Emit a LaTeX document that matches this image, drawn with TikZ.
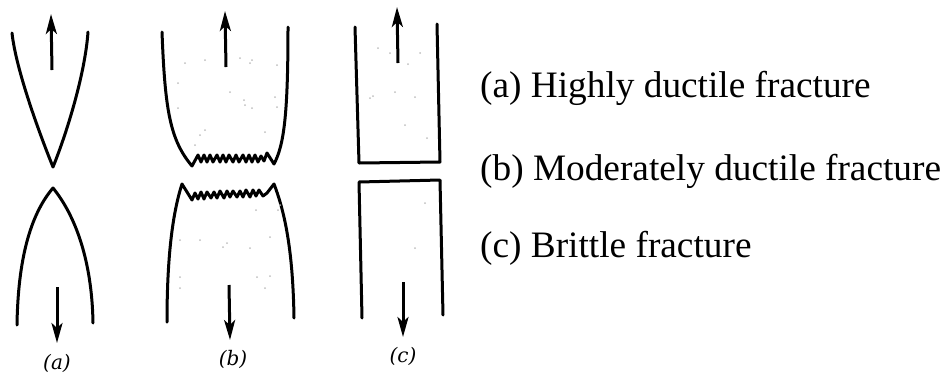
\documentclass[tikz,border=0pt]{standalone}
\usepackage{fontspec}
\setmainfont{Liberation Serif}
\newfontfamily\labfont{DejaVu Serif}
\usetikzlibrary{arrows.meta}
\begin{document}
\begin{tikzpicture}[x=1pt,y=-1pt,
  outline/.style={line width=3pt,line join=round,line cap=round},
  force/.style={line width=3pt,-{Stealth[length=20pt,width=11pt,inset=5pt]}},
  speck/.style={fill=gray!50,draw=none},
  sublabel/.style={inner sep=0pt,anchor=base,font=\labfont\itshape\fontsize{20}{24}\selectfont},
  legend/.style={inner sep=0pt,anchor=base west,font=\fontsize{37.3}{42}\selectfont}]
\useasboundingbox (0,0) rectangle (948,373);

% ---------- (a) highly ductile ----------
\draw[outline] (12,33) .. controls (16,70) and (40,135) .. (53,167)
               .. controls (66,135) and (85,75) .. (88,32);
\draw[outline] (17,325) .. controls (18,260) and (30,215) .. (53,188)
               .. controls (75,215) and (92,260) .. (93,323);
\coordinate (a1) at (52,70); \coordinate (a2) at (51,14);
\coordinate (a3) at (57,287); \coordinate (a4) at (57,343);
\draw[force] (a1) -- (a2);
\draw[force] (a3) -- (a4);
\node[sublabel] (la) at (57,369) {(a)};

% ---------- (b) moderately ductile ----------
\draw[outline] (162,32) .. controls (165,110) and (170,140) .. (192,166)
  -- (198,155) -- (201,162) -- (204,155) -- (207,162) -- (210,155) -- (213,162)
  -- (217,155) -- (220,162) -- (223,155) -- (226,162) -- (229,155) -- (233,162)
  -- (236,155) -- (239,162) -- (243,155) -- (246,162) -- (249,155) -- (252,162)
  -- (255,155) -- (258,162) -- (261,156) -- (264,161) -- (267,153) -- (274,164)
  .. controls (284,145) and (288,115) .. (288,27);
\draw[outline] (167,322) .. controls (167,260) and (172,215) .. (182,184)
  -- (192,200) -- (195,193) -- (198,199) -- (201,192) -- (204,199) -- (207,192)
  -- (211,198) -- (214,192) -- (217,198) -- (220,191) -- (224,198) -- (227,191)
  -- (230,197) -- (233,191) -- (237,197) -- (240,191) -- (243,197) -- (246,190)
  -- (250,197) -- (253,190) -- (256,196) -- (259,190) -- (263,196) -- (267,193)
  -- (274,184)
  .. controls (286,215) and (293,255) .. (294,318);
\coordinate (b1) at (226,67); \coordinate (b2) at (225,11);
\coordinate (b3) at (229,285); \coordinate (b4) at (230,340);
\draw[force] (b1) -- (b2);
\draw[force] (b3) -- (b4);
\node[sublabel] (lb) at (233,365) {(b)};

% ---------- (c) brittle ----------
\draw[outline] (355,27) -- (359,163) -- (440,162) -- (437,24);
\draw[outline] (362,318) -- (359,182) -- (440,180) -- (443,315);
\coordinate (c1) at (398,63); \coordinate (c2) at (397,7);
\coordinate (c3) at (403,282); \coordinate (c4) at (403,337);
\draw[force] (c1) -- (c2);
\draw[force] (c3) -- (c4);
\node[sublabel] (lc) at (403,362) {(c)};

% ---------- faint specks ----------
\foreach \p in {(185,63),(205,60),(240,58),(250,63),(252,60),(277,65),(178,83),
  (230,92),(244,100),(245,105),(252,108),(277,107),(275,97),(200,135),(205,130),
  (265,132),(178,108),(195,145),(180,240),(200,240),(223,247),(227,243),(250,248),
  (256,210),(278,210),(280,205),(270,237),(180,277),(180,288),(257,277),(270,276),
  (265,288),(378,48),(390,53),(420,53),(408,64),(370,98),(373,96),(395,92),
  (415,97),(405,125),(427,138),(425,203),(415,248)}
  \fill[speck] \p circle (1);

% ---------- legend ----------
\node[legend] (ta) at (480,97) {(a) Highly ductile fracture};
\node[legend] (tb) at (480,180) {(b) Moderately ductile fracture};
\node[legend] (tc) at (480,257) {(c) Brittle fracture};
\end{tikzpicture}
\end{document}
